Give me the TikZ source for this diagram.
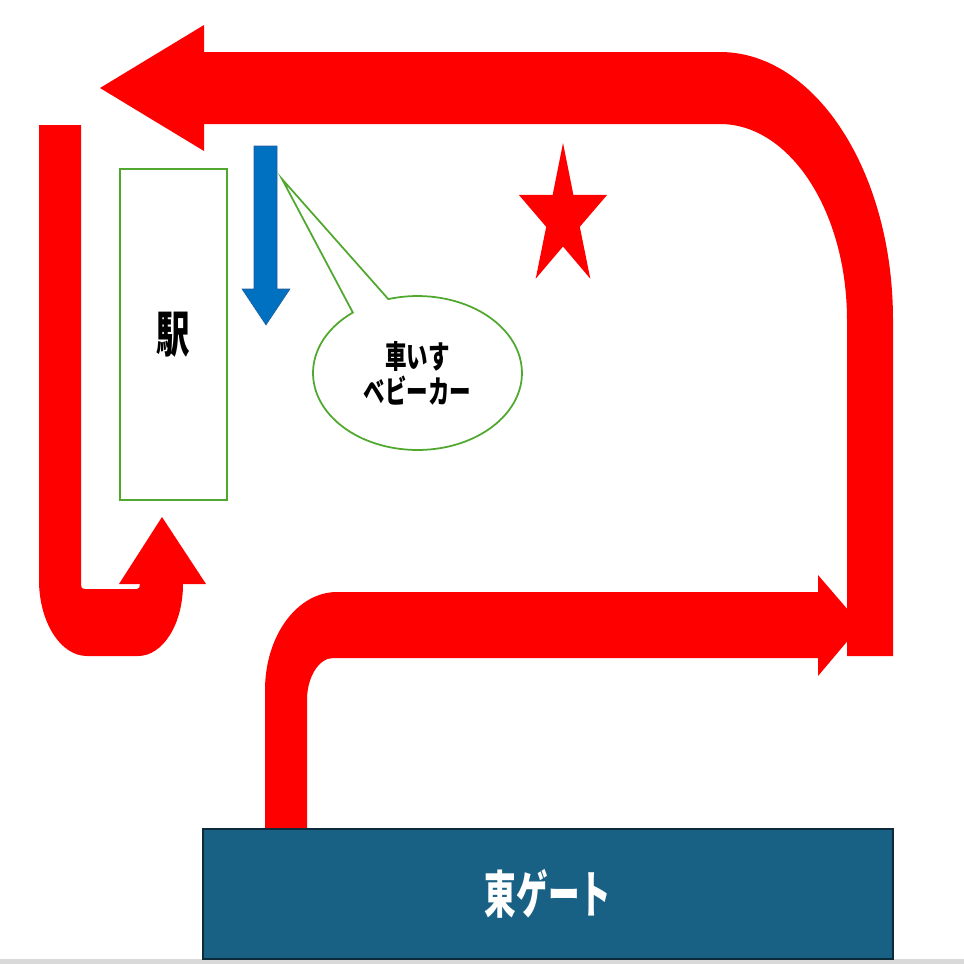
\documentclass[tikz,border=0pt]{standalone}
\usepackage{fontspec}
\usepackage{xcolor}
\usetikzlibrary{shapes.callouts}
\newfontfamily\jpfont[FakeStretch=0.68]{Noto Sans CJK JP}
\newfontfamily\jpnarrow[FakeStretch=0.62]{Noto Sans CJK JP}
\definecolor{route-red}{RGB}{255,0,0}
\definecolor{lift-blue}{RGB}{0,112,192}
\definecolor{lift-edge}{RGB}{40,90,150}
\definecolor{station-green}{RGB}{80,168,46}
\definecolor{gate-teal}{RGB}{24,97,132}
\definecolor{gate-edge}{RGB}{12,42,58}
\definecolor{floor-gray}{RGB}{217,217,217}

\begin{document}
\begin{tikzpicture}[x=0.02cm, y=-0.02cm]
  \useasboundingbox (0,0) rectangle (964,964);
  \fill[floor-gray] (0,959) rectangle (964,964);

  % route out of the gate
  \fill[route-red] (265,832) -- (265,690) .. controls (265,636) and (297,592) .. (337,592) -- (818,592) -- (818,575) -- (861,625) -- (818,676) -- (818,658) -- (333,658) .. controls (319,658) and (307,677) .. (307,700) -- (307,832) -- cycle;

  % top route, round the corner
  \fill[route-red] (100,88) -- (204,25) -- (204,52) -- (720,52) .. controls (815.5,52) and (893,172) .. (893,320) -- (893,656) -- (847,656) -- (847,320) .. controls (847,211.7) and (790,124) .. (720,124) -- (204,124) -- (204,151) -- cycle;

  % turn back at the station
  \fill[route-red] (39,125) -- (81,125) -- (81,585) .. controls (81,588) and (82,589) .. (85,589) -- (137,589) .. controls (139,589) and (140,587) .. (140,584) -- (119,584) -- (162,517) -- (206,584) -- (183,584) .. controls (183,624) and (163,656) .. (138,656) -- (87,656) .. controls (60.5,656) and (39,622) .. (39,580) -- cycle;

  % station
  \node[draw=station-green, line width=1pt, minimum width=2.14cm, minimum height=6.62cm, inner sep=0pt, font=\jpfont\bfseries\fontsize{28}{30}\selectfont] (eki) at (173.5,334.5) {駅};

  % lift arrow
  \fill[lift-blue, draw=lift-edge, line width=0.3pt] (254,146) -- (277,146) -- (277,289) -- (290,289) -- (266,325) -- (242,289) -- (254,289) -- cycle;

  % callout
  \node[ellipse callout, draw=station-green, fill=white, line width=1pt, callout absolute pointer={(282,179)}, callout pointer arc=22, minimum width=4.18cm, minimum height=3.08cm, inner sep=0pt, align=center, font=\jpfont\bfseries\fontsize{18}{20}\selectfont] (bubble) at (417.5,373) {車いす\\ベビーカー};

  % star
  \fill[route-red] (563,143) -- (573.4,195) -- (607.2,194.8) -- (579.8,226.8) -- (590.3,278.7) -- (563,246.5) -- (535.7,278.7) -- (546.2,226.8) -- (518.8,194.8) -- (552.6,195) -- cycle;

  % gate
  \node[fill=gate-teal, draw=gate-edge, line width=1.2pt, minimum width=13.8cm, minimum height=2.6cm, inner sep=0pt, text=white, font=\jpnarrow\bfseries\fontsize{29}{31}\selectfont] (gate) at (548,894) {東ゲート};
\end{tikzpicture}
\end{document}
